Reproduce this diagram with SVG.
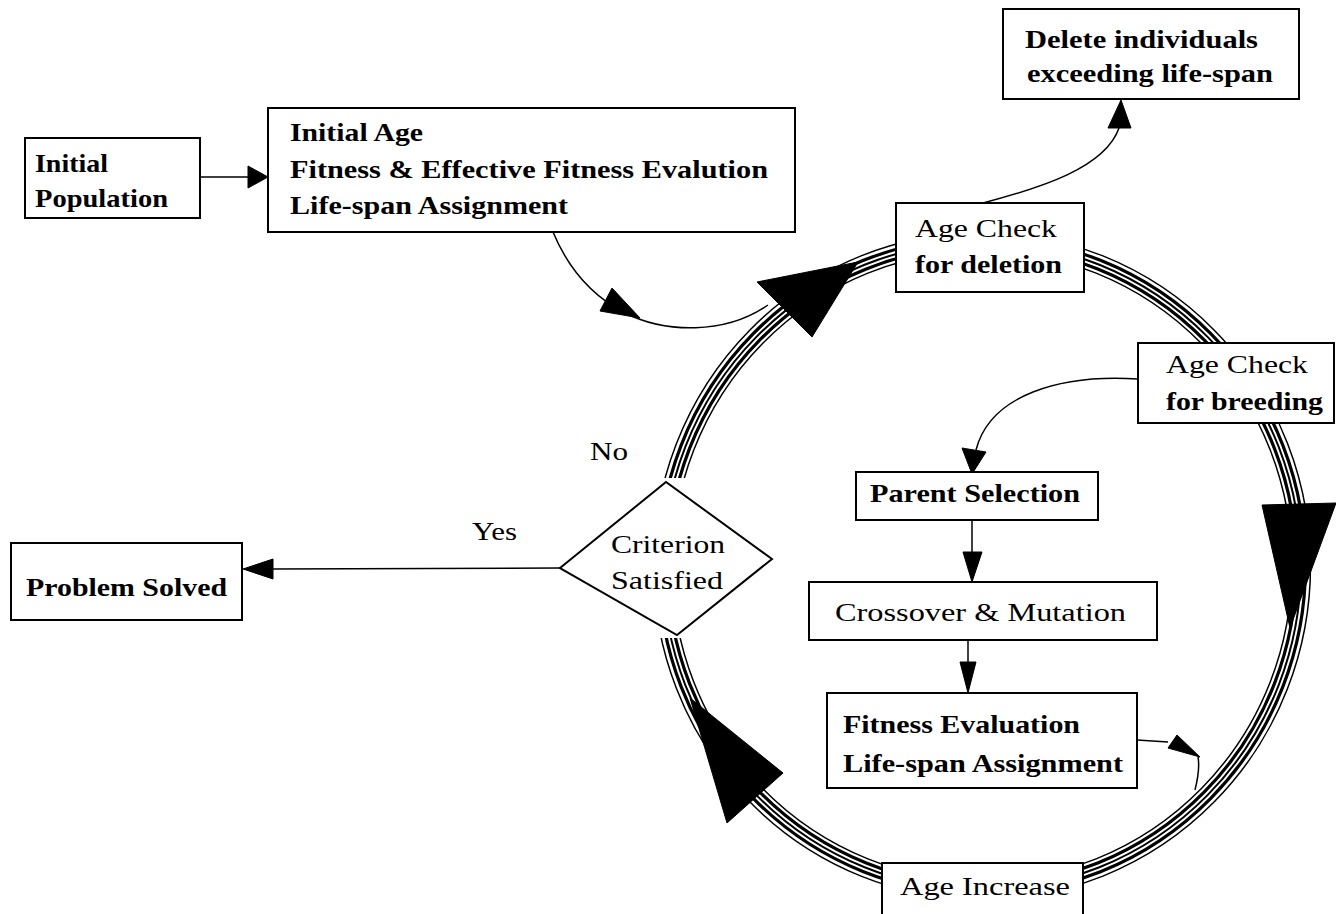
<svg xmlns="http://www.w3.org/2000/svg" width="1336" height="914" viewBox="0 0 1336 914">
<style>
  .box { fill: #ffffff; stroke: #000; stroke-width: 2; }
  .t { font-family: "Liberation Serif", "Times New Roman", serif; font-size: 26px; fill: #000; }
  .b { font-weight: bold; }
  .ln { fill: none; stroke: #000; stroke-width: 1.5; }
  .ring { fill: none; stroke: #000; }
  .ah { fill: #000; stroke: #000; stroke-width: 1; stroke-linejoin: round; }
</style>
<defs>
  <clipPath id="gap">
    <path clip-rule="evenodd" d="M0,0H1336V914H0Z M600,478H745V638H600Z"/>
  </clipPath>
</defs>
<rect x="0" y="0" width="1336" height="914" fill="#ffffff"/>

<g id="connectors">
  <g id="ring" clip-path="url(#gap)">
    <ellipse class="ring" cx="982" cy="566" rx="310" ry="315" stroke-width="1.5"/>
    <ellipse class="ring" cx="982" cy="566" rx="314.5" ry="319.5" stroke-width="3.2"/>
    <ellipse class="ring" cx="982" cy="566" rx="319" ry="324" stroke-width="2"/>
    <ellipse class="ring" cx="982" cy="566" rx="323.5" ry="328.5" stroke-width="3.2"/>
    <ellipse class="ring" cx="982" cy="566" rx="328.5" ry="333.5" stroke-width="1.5"/>
  </g>
  <polygon class="ah" points="757,282 812,337 858,262"/>
  <polygon class="ah" points="1262,505 1336,503 1290,628"/>
  <polygon class="ah" points="727,823 783,773 690,698"/>

  <line class="ln" x1="200" y1="177" x2="250" y2="177"/>
  <polygon class="ah" points="248,166 248,188 268,177"/>

  <path class="ln" d="M553,232 C568,268 590,295 625,313 C665,333 725,335 768,305"/>
  <polygon class="ah" points="612,288 600,311 640,318"/>

  <path class="ln" d="M983,203 C1040,188 1105,168 1119,128"/>
  <polygon class="ah" points="1108,128 1131,128 1121,100"/>

  <path class="ln" d="M1138,379 C1060,374 990,395 976,450"/>
  <polygon class="ah" points="962,448 986,452 972,474"/>

  <line class="ln" x1="972" y1="520" x2="972" y2="552"/>
  <polygon class="ah" points="963,552 982,552 972,582"/>

  <line class="ln" x1="968" y1="640" x2="968" y2="662"/>
  <polygon class="ah" points="960,662 976,662 968,693"/>

  <path class="ln" d="M1137,740 L1168,742"/>
  <polygon class="ah" points="1177,735 1168,748 1200,757"/>
  <path class="ln" d="M1198,757 C1200,768 1198,778 1195,790"/>

  <line class="ln" x1="560" y1="568" x2="272" y2="569"/>
  <polygon class="ah" points="243,569 273,559 273,579"/>
</g>

<g id="n-initial-population">
  <rect class="box" x="25" y="138" width="175" height="80"/>
  <text class="t b" x="35" y="172" textLength="73" lengthAdjust="spacingAndGlyphs">Initial</text>
  <text class="t b" x="35" y="207" textLength="133" lengthAdjust="spacingAndGlyphs">Population</text>
</g>

<g id="n-initial-age">
  <rect class="box" x="268" y="108" width="527" height="124"/>
  <text class="t b" x="290" y="141" textLength="133" lengthAdjust="spacingAndGlyphs">Initial Age</text>
  <text class="t b" x="290" y="178" textLength="478" lengthAdjust="spacingAndGlyphs">Fitness &amp; Effective Fitness Evalution</text>
  <text class="t b" x="290" y="214" textLength="278" lengthAdjust="spacingAndGlyphs">Life-span Assignment</text>
</g>

<g id="n-delete">
  <rect class="box" x="1003" y="9" width="296" height="90"/>
  <text class="t b" x="1025" y="48" textLength="233" lengthAdjust="spacingAndGlyphs">Delete individuals</text>
  <text class="t b" x="1027" y="82" textLength="246" lengthAdjust="spacingAndGlyphs">exceeding life-span</text>
</g>

<g id="n-age-check-deletion">
  <rect class="box" x="896" y="203" width="188" height="89"/>
  <text class="t" x="915" y="237" textLength="142" lengthAdjust="spacingAndGlyphs">Age Check</text>
  <text class="t b" x="915" y="273" textLength="147" lengthAdjust="spacingAndGlyphs">for deletion</text>
</g>

<g id="n-age-check-breeding">
  <rect class="box" x="1138" y="343" width="196" height="80"/>
  <text class="t" x="1166" y="373" textLength="142" lengthAdjust="spacingAndGlyphs">Age Check</text>
  <text class="t b" x="1166" y="410" textLength="157" lengthAdjust="spacingAndGlyphs">for breeding</text>
</g>

<g id="n-parent-selection">
  <rect class="box" x="856" y="472" width="242" height="48"/>
  <text class="t b" x="870" y="502" textLength="210" lengthAdjust="spacingAndGlyphs">Parent Selection</text>
</g>

<g id="n-crossover">
  <rect class="box" x="809" y="582" width="348" height="58"/>
  <text class="t" x="835" y="621" textLength="291" lengthAdjust="spacingAndGlyphs">Crossover &amp; Mutation</text>
</g>

<g id="n-fitness">
  <rect class="box" x="827" y="693" width="310" height="95"/>
  <text class="t b" x="843" y="733" textLength="237" lengthAdjust="spacingAndGlyphs">Fitness Evaluation</text>
  <text class="t b" x="843" y="772" textLength="280" lengthAdjust="spacingAndGlyphs">Life-span Assignment</text>
</g>

<g id="n-age-increase">
  <rect class="box" x="882" y="863" width="201" height="52"/>
  <text class="t" x="900" y="895" textLength="170" lengthAdjust="spacingAndGlyphs">Age Increase</text>
</g>

<g id="n-criterion">
  <polygon class="box" points="560,568 666,482 772,559 677,635" stroke-width="1.5"/>
  <text class="t" x="611" y="553" font-size="27" textLength="114" lengthAdjust="spacingAndGlyphs">Criterion</text>
  <text class="t" x="611" y="589" font-size="27" textLength="112" lengthAdjust="spacingAndGlyphs">Satisfied</text>
</g>

<g id="n-problem-solved">
  <rect class="box" x="11" y="543" width="231" height="77"/>
  <text class="t b" x="26" y="596" textLength="201" lengthAdjust="spacingAndGlyphs">Problem Solved</text>
</g>

<g id="labels">
  <text class="t" x="472" y="540" textLength="45" lengthAdjust="spacingAndGlyphs">Yes</text>
  <text class="t" x="590" y="460" textLength="38" lengthAdjust="spacingAndGlyphs">No</text>
</g>
</svg>
